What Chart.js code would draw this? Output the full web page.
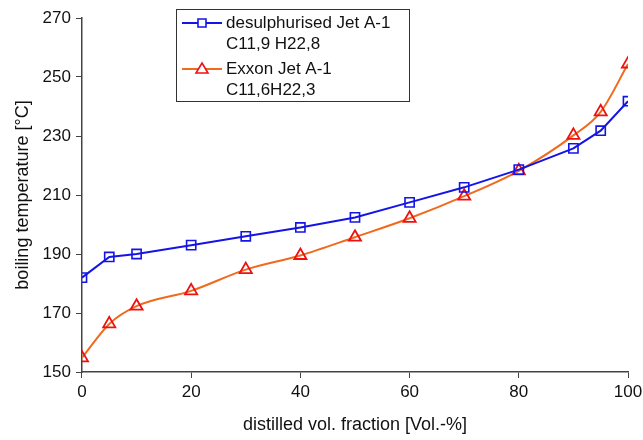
<!DOCTYPE html>
<html>
<head>
<meta charset="utf-8">
<script src="https://cdn.jsdelivr.net/npm/chart.js@4"></script>
<style>
  html, body { margin: 0; padding: 0; background: #fff; }
  #wrap { position: relative; width: 643px; height: 440px; }
</style>
</head>
<body>
<div id="wrap"><canvas id="chart" width="643" height="440"></canvas></div>
<script>
// distilled volume fractions [Vol.-%]
const fractions = [0, 5, 10, 20, 30, 40, 50, 60, 70, 80, 90, 95, 100];

// boiling temperatures [°C]
const desulphurised = [182, 189, 190, 193, 196, 199, 202.4, 207.5, 212.6, 218.6, 225.8, 231.8, 241.8];
const exxon = [154.8, 166.3, 172.3, 177.5, 184.7, 189.5, 195.7, 202.1, 209.6, 218.2, 230.2, 238.2, 254.4];

const legendLines = [
  ['desulphurised Jet A-1', 'C11,9 H22,8'],
  ['Exxon Jet A-1', 'C11,6H22,3']
];

const xTicks = [0, 20, 40, 60, 80, 100];
const yTicks = [150, 170, 190, 210, 230, 250, 270];

const FONT = 'Liberation Sans, Arial, sans-serif';
const AXIS = '#444';

function toPoints(values) {
  return fractions.map((x, i) => ({ x: x, y: values[i] }));
}

// Legend drawn as a boxed two-line list, like the original figure
const boxLegend = {
  id: 'boxLegend',
  afterDraw(chart) {
    const ctx = chart.ctx;
    const left = 176, top = 9, width = 233, height = 92;
    ctx.save();
    ctx.fillStyle = '#fff';
    ctx.fillRect(left, top, width, height);
    ctx.strokeStyle = '#333';
    ctx.lineWidth = 1;
    ctx.strokeRect(left + 0.5, top + 0.5, width, height);

    chart.data.datasets.forEach((ds, i) => {
      const y = 23 + i * 46;
      ctx.strokeStyle = ds.borderColor;
      ctx.lineWidth = 2;
      ctx.beginPath();
      ctx.moveTo(182, y);
      ctx.lineTo(222, y);
      ctx.stroke();

      ctx.strokeStyle = ds.pointBorderColor;
      ctx.lineWidth = 1.6;
      ctx.beginPath();
      if (ds.pointStyle === 'rect') {
        ctx.rect(198, y - 4, 8, 8);
      } else {
        ctx.moveTo(202, y - 6);
        ctx.lineTo(208, y + 4);
        ctx.lineTo(196, y + 4);
        ctx.closePath();
      }
      ctx.fillStyle = '#fff';
      ctx.fill();
      ctx.stroke();

      ctx.fillStyle = '#111';
      ctx.font = '17px ' + FONT;
      ctx.textBaseline = 'middle';
      ctx.textAlign = 'left';
      ctx.fillText(legendLines[i][0], 226, y);
      ctx.fillText(legendLines[i][1], 226, y + 21);
    });
    ctx.restore();
  }
};

new Chart(document.getElementById('chart'), {
  type: 'scatter',
  data: {
    datasets: [
      {
        label: legendLines[0].join(' '),
        data: toPoints(desulphurised),
        showLine: true,
        borderColor: '#1414e6',
        borderWidth: 2,
        pointStyle: 'rect',
        pointRadius: 6.5,
        pointBorderWidth: 1.6,
        pointBorderColor: '#1414e6',
        pointBackgroundColor: 'rgba(255,255,255,0)',
        tension: 0
      },
      {
        label: legendLines[1].join(' '),
        data: toPoints(exxon),
        showLine: true,
        borderColor: '#f06a1e',
        borderWidth: 2,
        cubicInterpolationMode: 'monotone',
        pointStyle: 'triangle',
        pointRadius: 7,
        pointBorderWidth: 1.8,
        pointBorderColor: '#ee1111',
        pointBackgroundColor: 'rgba(255,255,255,0)'
      }
    ]
  },
  options: {
    responsive: false,
    animation: false,
    layout: { padding: { top: 18, right: 0, left: 12, bottom: 4 } },
    plugins: {
      legend: { display: false },
      tooltip: { enabled: false }
    },
    scales: {
      x: {
        type: 'linear',
        min: 0,
        max: 100,
        afterBuildTicks: (axis) => { axis.ticks = xTicks.map(v => ({ value: v })); },
        afterFit: (axis) => { axis.paddingRight = 15; },
        border: { display: true, color: AXIS, width: 1.5 },
        grid: { display: true, drawOnChartArea: false, drawTicks: true, tickLength: 6, color: AXIS },
        ticks: { color: '#111', font: { family: FONT, size: 17 }, padding: 4, maxRotation: 0 },
        title: {
          display: true,
          text: 'distilled vol. fraction [Vol.-%]',
          color: '#111',
          font: { family: FONT, size: 18 },
          padding: { top: 8, bottom: 0 }
        }
      },
      y: {
        type: 'linear',
        min: 150,
        max: 270,
        afterBuildTicks: (axis) => { axis.ticks = yTicks.map(v => ({ value: v })); },
        border: { display: true, color: AXIS, width: 1.5 },
        grid: { display: true, drawOnChartArea: false, drawTicks: true, tickLength: 6, color: AXIS },
        ticks: { color: '#111', font: { family: FONT, size: 17 }, padding: 5 },
        title: {
          display: true,
          text: 'boiling temperature [°C]',
          color: '#111',
          font: { family: FONT, size: 18 },
          padding: { top: 0, bottom: 4 }
        }
      }
    }
  },
  plugins: [boxLegend]
});
</script>
</body>
</html>
